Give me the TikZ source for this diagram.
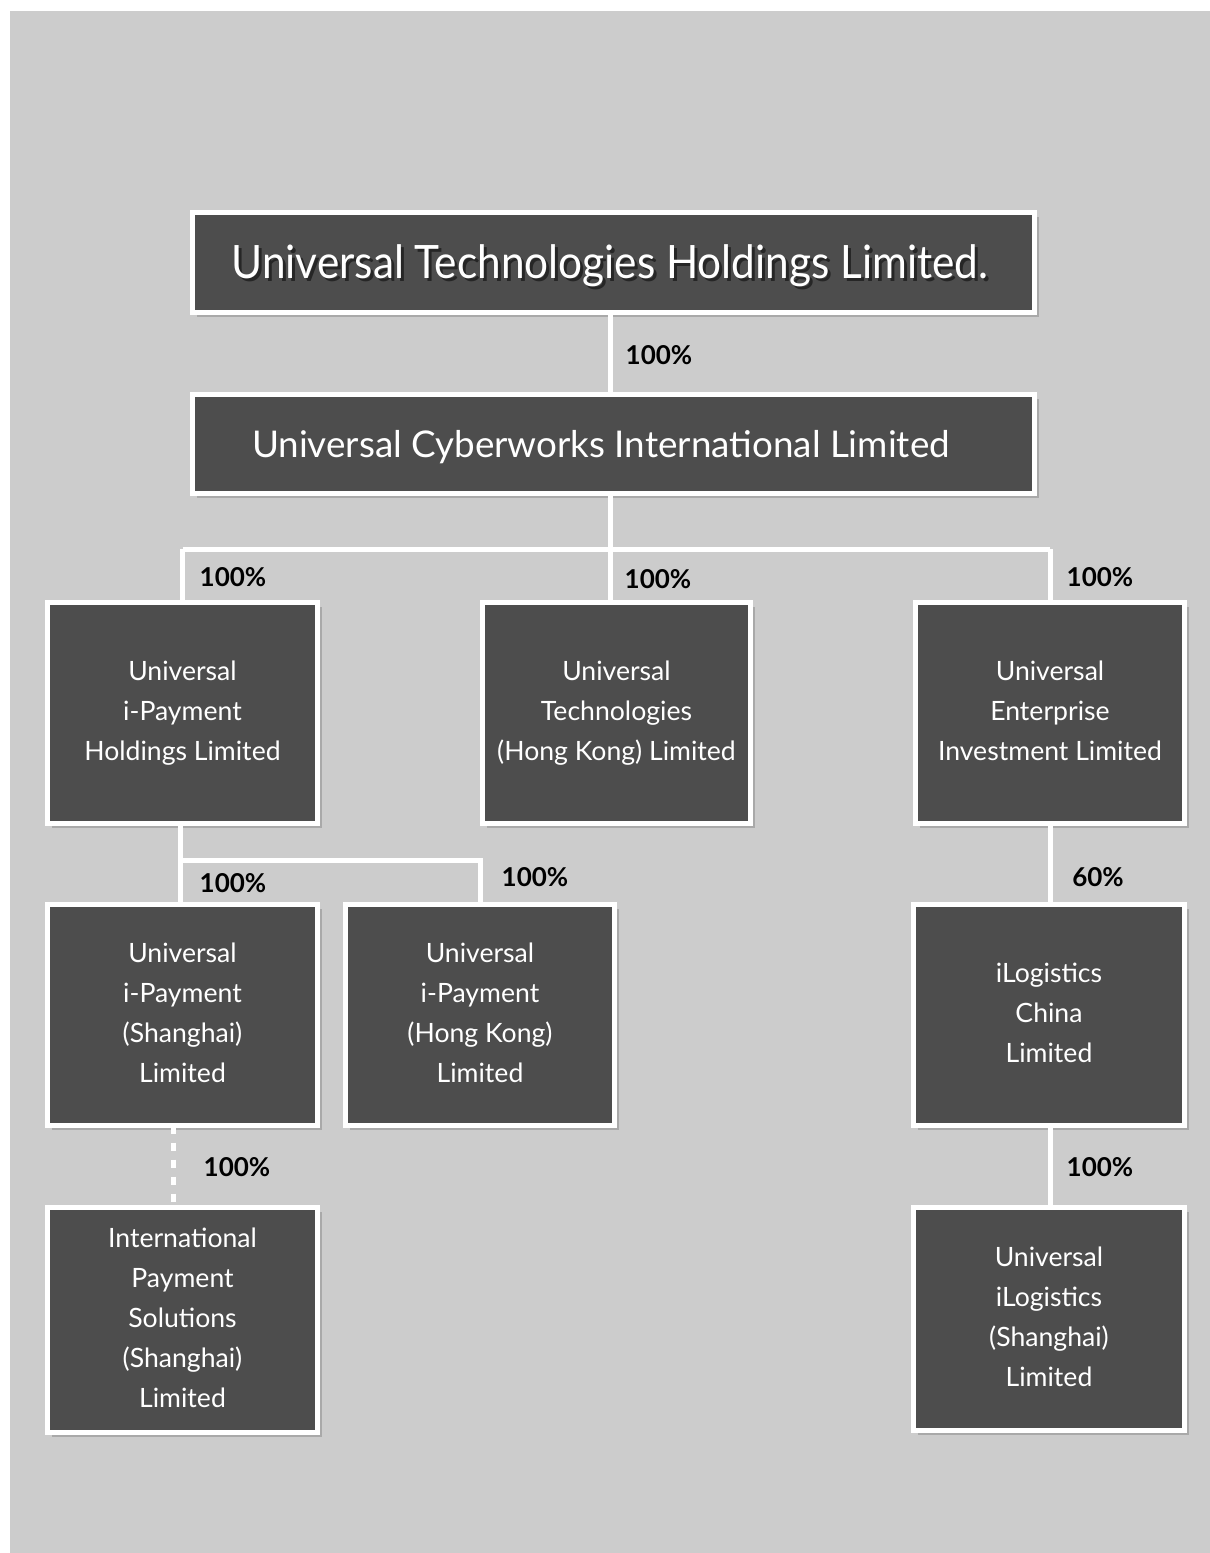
\documentclass[tikz,border=0pt]{standalone}
\usepackage{fontspec}
\setmainfont{Lato}
\newfontfamily\titlefont[FakeStretch=0.92]{Lato}
\definecolor{UTcolBG}{HTML}{cccccc}
\definecolor{UTcolBox}{HTML}{4d4d4d}
\definecolor{UTcolShade}{HTML}{a9a9a9}
\definecolor{UTcolInk}{HTML}{262626}
\usepackage{tikz}

\tikzset{
  entity/.style={rectangle, draw=white, fill=UTcolBox, line width=2.5pt,
    text=white, align=center, font=\fontsize{13.3}{20}\selectfont,
    execute at begin node=\rule{0pt}{16pt}, execute at end node=\rule[-2.4pt]{0pt}{2.4pt},
    minimum width=135pt, minimum height=110.5pt},
  share/.style={font=\fontsize{13}{15}\selectfont\bfseries, text=black},
  link/.style={draw=white, line width=2.5pt},
}

\begin{document}
\begin{tikzpicture}[y=0.50pt, x=0.50pt, yscale=-1.000000, xscale=1.000000, inner sep=0pt, outer sep=0pt]
  \useasboundingbox (0,0) rectangle (1210,1553);
  \fill[UTcolBG] (10,11) rectangle (1210,1553);

  % junctions of the white connectors
  \coordinate (busC) at (610,549);
  \coordinate (busL) at (180,860);

  % box shadows
  \foreach \cx/\cy/\w/\h in {613.5/262.5/842/100, 613.5/444/842/99,
      182.5/713/270/221, 616.5/713/268/221, 1050/713/269/221,
      182.5/1015/270/221, 480/1015/269/221, 1049/1015/271/221,
      182.5/1320/270/225, 1049/1319/271/223}
    \fill[UTcolShade] (\cx-\w/2+4,\cy-\h/2+4) rectangle (\cx+\w/2+4,\cy+\h/2+4);

  % top two levels
  \node[entity, minimum width=421pt, minimum height=50pt, execute at begin node={}, execute at end node={}] (holding) at (613.5,262.5) {};
  \node[text=UTcolInk, font=\titlefont\fontsize{23}{26}\selectfont] at (613,269) {Universal Technologies Holdings Limited.};
  \node[text=white, font=\titlefont\fontsize{23}{26}\selectfont] (holdingtxt) at (610,266) {Universal Technologies Holdings Limited.};
  \node[entity, minimum width=421pt, minimum height=49.5pt, font=\fontsize{18.4}{20}\selectfont,
    execute at begin node={}, execute at end node={}] (cyber) at (613.5,444) {};
  \node[text=white, font=\fontsize{18.4}{20}\selectfont] (cybertxt) at (601,447) {Universal Cyberworks International Limited};

  % second level
  \node[entity] (ipay) at (182.5,713) {Universal\\i-Payment\\Holdings Limited};
  \node[entity, minimum width=134pt] (uthk) at (616.5,713) {Universal\\Technologies\\(Hong Kong) Limited};
  \node[entity, minimum width=134.5pt] (uei) at (1050,713) {Universal\\Enterprise\\Investment Limited};

  % third level
  \node[entity] (ipaysh) at (182.5,1015) {Universal\\i-Payment\\(Shanghai)\\Limited};
  \node[entity, minimum width=134.5pt] (ipayhk) at (480,1015) {Universal\\i-Payment\\(Hong Kong)\\Limited};
  \node[entity, minimum width=135.5pt] (ilogcn) at (1049,1015) {iLogistics\\China\\Limited};

  % fourth level
  \node[entity, minimum height=112.5pt] (ips) at (182.5,1320) {International\\Payment\\Solutions\\(Shanghai)\\Limited};
  \node[entity, minimum width=135.5pt, minimum height=111.5pt] (uilog) at (1049,1319) {Universal\\iLogistics\\(Shanghai)\\Limited};

  % connectors
  \path[link] (holding.south -| busC) -- (cyber.north -| busC);
  \path[link] (cyber.south -| busC) -- (busC);
  \path[link] (ipay.north |- busC) -- (uei.north |- busC);
  \path[link] (ipay.north |- busC) -- (ipay.north);
  \path[link] (busC) -- (uthk.north -| busC);
  \path[link] (uei.north |- busC) -- (uei.north);
  \path[link] (ipay.south -| busL) -- (busL) -- (ipayhk.north |- busL) -- (ipayhk.north);
  \path[link] (busL) -- (ipaysh.north -| busL);
  \path[link] (uei.south) -- (uei.south |- ilogcn.north);
  \path[link, dash pattern=on 4pt off 4.5pt] ([xshift=-4.75pt]ipaysh.south) -- ([xshift=-4.75pt]ips.north);
  \path[link] (ilogcn.south -| uei.south) -- (uilog.north -| uei.south);

  % shareholdings
  \node[share] (s1) at (659,355) {100\%};
  \node[share] (s2) at (233,577) {100\%};
  \node[share] (s3) at (658,579) {100\%};
  \node[share] (s4) at (1100,577) {100\%};
  \node[share] (s5) at (233,883) {100\%};
  \node[share] (s6) at (535,877) {100\%};
  \node[share] (s7) at (1098,877) {60\%};
  \node[share] (s8) at (237,1167) {100\%};
  \node[share] (s9) at (1100,1167) {100\%};
\end{tikzpicture}
\end{document}
